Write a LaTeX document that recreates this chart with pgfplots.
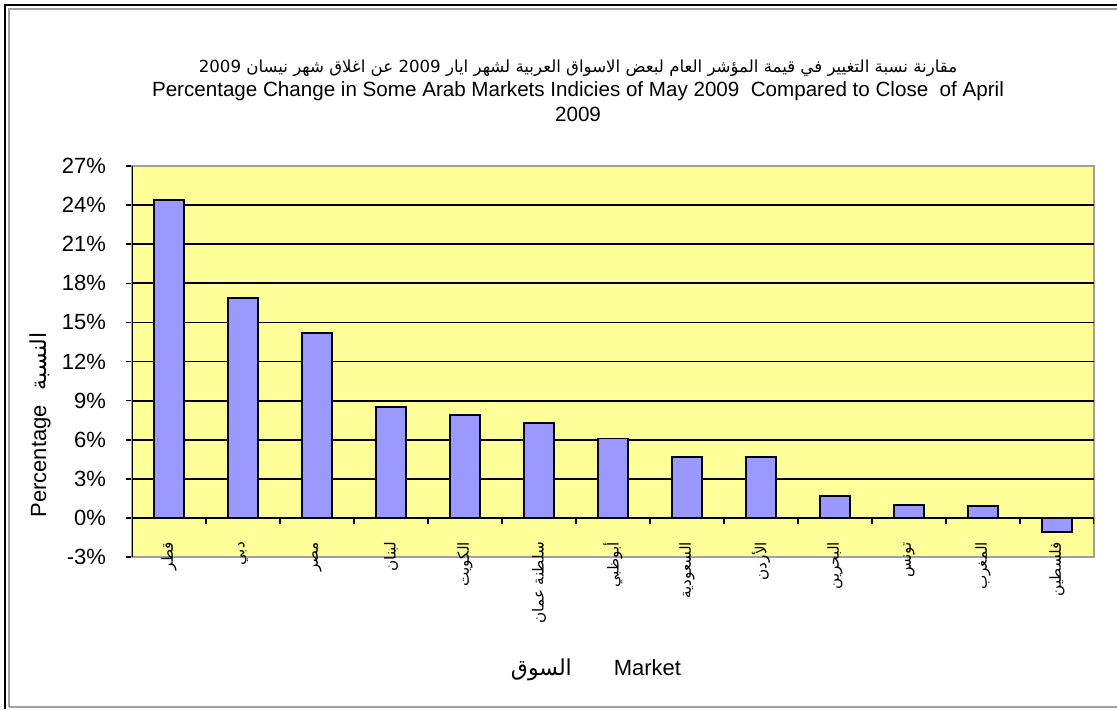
\documentclass[border=0pt]{standalone}
\usepackage{pgfplots}
\pgfplotsset{compat=1.18}
\usepackage{fontspec}
\setmainfont{Liberation Sans}
\newfontfamily\arabicfont[Script=Arabic]{DejaVu Sans}
\TeXXeTstate=1
\definecolor{bgyellow}{HTML}{FFFF99}
\definecolor{barblue}{HTML}{9999FF}
\definecolor{framegray}{HTML}{A0A0A0}
\begin{document}
\begin{tikzpicture}
\path[use as bounding box] (0,0) rectangle (558.5pt,354.5pt);
\draw[black, line width=1.1pt] (2.5pt,0) -- (2.5pt,352pt) -- (558.5pt,352pt);
\draw[framegray, line width=0.8pt] (4.6pt,1pt) -- (4.6pt,349.9pt) -- (558.5pt,349.9pt);
\draw[framegray, line width=0.8pt] (4.6pt,1pt) -- (558.5pt,1pt);
\begin{axis}[
  at={(66pt,76pt)}, anchor=south west,
  scale only axis, width=481pt, height=195.5pt,
  xmin=-0.5, xmax=12.5, ymin=-3, ymax=27,
  axis background/.style={fill=bgyellow},
  axis line style={framegray, line width=0.8pt},
  ytick={-3,0,3,6,9,12,15,18,21,24,27},
  yticklabels={-3\%,0\%,3\%,6\%,9\%,12\%,15\%,18\%,21\%,24\%,27\%},
  ytick pos=left, tick align=outside, major tick length=3pt,
  ytick style={black, line width=0.8pt},
  yticklabel style={font=\fontsize{11}{12}\selectfont},
  yticklabel shift=6.5pt,
  xtick={0,...,12},
  xtick style={draw=none},
  xticklabels={
    {\arabicfont\beginR قطر\endR},
    {\arabicfont\beginR دبي\endR},
    {\arabicfont\beginR مصر\endR},
    {\arabicfont\beginR لبنان\endR},
    {\arabicfont\beginR الكويت\endR},
    {\arabicfont\beginR سلطنة عمان\endR},
    {\arabicfont\beginR أبوظبي\endR},
    {\arabicfont\beginR السعودية\endR},
    {\arabicfont\beginR الأردن\endR},
    {\arabicfont\beginR البحرين\endR},
    {\arabicfont\beginR تونس\endR},
    {\arabicfont\beginR المغرب\endR},
    {\arabicfont\beginR فلسطين\endR}},
  xticklabel style={font=\fontsize{7.6}{9}\selectfont, rotate=90, anchor=east},
  xticklabel shift=-14pt,
]
\pgfplotsinvokeforeach{3,6,9,12,15,18,21,24}{\draw[black, line width=0.9pt] (axis cs:-0.5,#1) -- (axis cs:12.5,#1);}
\addplot[ybar, bar width=15pt, fill=barblue, draw=black, line width=0.9pt] coordinates {
(0,24.4) (1,16.9) (2,14.2) (3,8.5) (4,7.9) (5,7.3) (6,6.1) (7,4.7) (8,4.7) (9,1.7) (10,1.0) (11,0.9) (12,-1.1)};
\draw[black, line width=0.9pt] (axis cs:-0.5,0) -- (axis cs:12.5,0);
\pgfplotsinvokeforeach{-0.5,0.5,1.5,2.5,3.5,4.5,5.5,6.5,7.5,8.5,9.5,10.5,11.5,12.5}{\draw[black, line width=0.8pt] (axis cs:#1,0) -- ([yshift=-3pt]axis cs:#1,0);}
\draw[black, line width=0.9pt] (rel axis cs:0,0) -- (rel axis cs:0,1);
\end{axis}
\node[font=\arabicfont\fontsize{8.3}{10}\selectfont] at (289pt,320.5pt) {\beginR مقارنة نسبة التغيير في قيمة المؤشر العام لبعض الاسواق العربية لشهر ايار \beginL 2009\endL{} عن اغلاق شهر نيسان \beginL 2009\endL{}\endR};
\node[font=\fontsize{10.3}{12}\selectfont] at (289pt,309pt) {Percentage Change in Some Arab Markets Indicies of May 2009\ \ Compared to Close\ \ of April};
\node[font=\fontsize{10.3}{12}\selectfont] at (289pt,297.5pt) {2009};
\node[rotate=90, font=\fontsize{11}{12}\selectfont] at (20pt,142pt) {Percentage\hspace{7.5pt}{\arabicfont\beginR النسبة\endR}};
\node[font=\fontsize{11}{12}\selectfont] at (298pt,19.5pt) {{\arabicfont\beginR السوق\endR}\hspace{21pt}Market};
\end{tikzpicture}
\end{document}
